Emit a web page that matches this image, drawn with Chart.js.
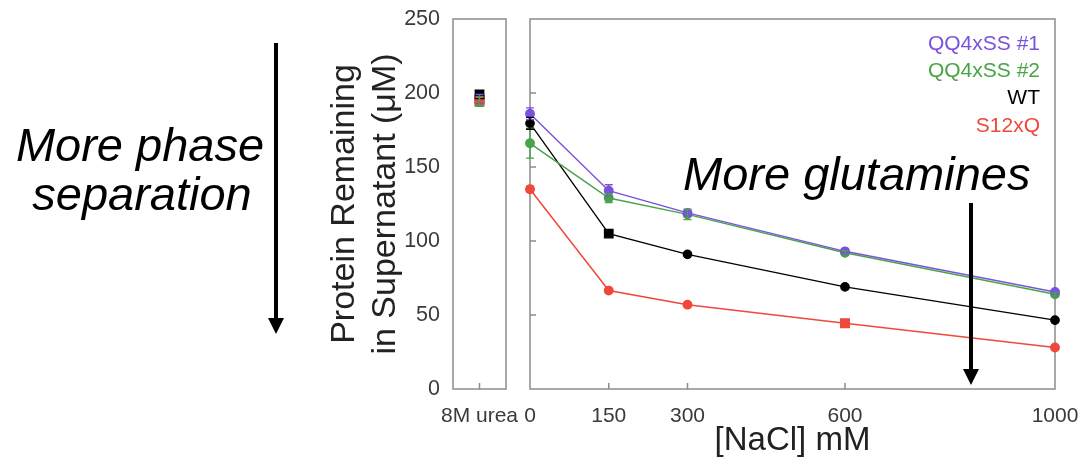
<!DOCTYPE html>
<html lang="en">

<head>
    <meta charset="UTF-8">
    <title>Protein Remaining in Supernatant</title>
    <script src="https://cdn.jsdelivr.net/npm/chart.js"></script>
    <style>
        body { margin: 0; background: #fff; }
        #wrap { position: relative; width: 1086px; height: 459px; }
        canvas { position: absolute; top: 0; }
        #ureaChart { left: 0; }
        #saltChart { left: 510px; }
    </style>
</head>

<body>
    <div id="wrap">
        <canvas id="ureaChart" width="540" height="459"></canvas>
        <canvas id="saltChart" width="576" height="459"></canvas>
    </div>

    <script>
        // NaCl series (uM protein left in supernatant)
        const naclConc = [0, 150, 300, 600, 1000];
        const naclTicks = [0, 150, 300, 600, 1000];
        const yTicks = [0, 50, 100, 150, 200, 250];

        const seriesNames = ['QQ4xSS #1', 'QQ4xSS #2', 'WT', 'S12xQ'];
        const seriesColors = ['#7b52dc', '#47a447', '#000000', '#f0483a'];

        const qq1 = [186, 134, 119, 93, 65.5];
        const qq1Err = [4, 4, 2, 1.5, 1];
        const qq2 = [166, 129, 118, 92, 64];
        const qq2Err = [10, 3, 3.5, 1.5, 1];
        const wt = [179.5, 105, 91, 69, 46.5];
        const wtErr = [4, 1, 1, 1, 1];
        const s12 = [135, 66.5, 57, 44.5, 28];
        const s12Err = [2, 1, 1, 1, 1];

        // 8M urea control
        const ureaLabels = ['8M urea'];
        const qq1Urea = [196];
        const qq1UreaErr = [3];
        const qq2Urea = [194];
        const qq2UreaErr = [3];
        const wtUrea = [199];
        const wtUreaErr = [2];
        const s12Urea = [195.5];
        const s12UreaErr = [2];

        // marker shapes per point
        const qq1Marks = ['circle', 'circle', 'circle', 'circle', 'circle'];
        const qq2Marks = ['circle', 'circle', 'circle', 'circle', 'circle'];
        const wtMarks = ['circle', 'rect', 'circle', 'circle', 'circle'];
        const s12Marks = ['circle', 'circle', 'circle', 'rect', 'circle'];

        const FONT = 'Liberation Sans, Arial, Helvetica, sans-serif';
        Chart.defaults.font.family = FONT;
        Chart.defaults.color = '#3a3a3a';

        const markRadius = ctx => {
            const s = ctx.dataset.pointStyle;
            const style = Array.isArray(s) ? s[ctx.dataIndex] : s;
            return style === 'rect' ? 6 : 4.2;
        };

        function makeSet(i, values, errs, marks) {
            return {
                label: seriesNames[i],
                data: values,
                errors: errs,
                borderColor: seriesColors[i],
                backgroundColor: seriesColors[i],
                pointBackgroundColor: seriesColors[i],
                pointBorderColor: seriesColors[i],
                borderWidth: i === 2 ? 1.3 : 1.5,
                pointStyle: marks,
                pointRadius: markRadius,
                clip: false,
                tension: 0
            };
        }

        // box around the plot area plus small inward ticks
        const framePlugin = {
            id: 'frame',
            beforeDatasetsDraw(chart, args, opts) {
                const { ctx, chartArea: a, scales } = chart;
                ctx.save();
                ctx.strokeStyle = '#8c8c8c';
                ctx.lineWidth = 1.5;
                ctx.strokeRect(a.left, a.top, a.right - a.left, a.bottom - a.top);
                ctx.beginPath();
                (opts.xTicks || []).forEach(v => {
                    const x = scales.x.getPixelForValue(v);
                    ctx.moveTo(x, a.bottom);
                    ctx.lineTo(x, a.bottom - 6);
                });
                (opts.yTicks || []).forEach(v => {
                    const y = scales.y.getPixelForValue(v);
                    ctx.moveTo(a.left, y);
                    ctx.lineTo(a.left + 6, y);
                });
                ctx.stroke();
                ctx.restore();
            }
        };

        // vertical error bars with caps
        const errorBarPlugin = {
            id: 'errorBars',
            afterDatasetsDraw(chart) {
                const { ctx, scales } = chart;
                ctx.save();
                ctx.lineWidth = 1.3;
                chart.data.datasets.forEach((ds, di) => {
                    const meta = chart.getDatasetMeta(di);
                    meta.data.forEach((pt, j) => {
                        const err = ds.errors[j];
                        const v = typeof ds.data[j] === 'object' ? ds.data[j].y : ds.data[j];
                        const yHi = scales.y.getPixelForValue(v + err);
                        const yLo = scales.y.getPixelForValue(v - err);
                        ctx.strokeStyle = ds.borderColor;
                        ctx.beginPath();
                        ctx.moveTo(pt.x, yHi);
                        ctx.lineTo(pt.x, yLo);
                        ctx.moveTo(pt.x - 4, yHi);
                        ctx.lineTo(pt.x + 4, yHi);
                        ctx.moveTo(pt.x - 4, yLo);
                        ctx.lineTo(pt.x + 4, yLo);
                        ctx.stroke();
                    });
                });
                ctx.restore();
            }
        };

        function drawArrow(ctx, x, y0, y1) {
            ctx.save();
            ctx.strokeStyle = '#000';
            ctx.fillStyle = '#000';
            ctx.lineWidth = 4;
            ctx.beginPath();
            ctx.moveTo(x, y0);
            ctx.lineTo(x, y1 - 14);
            ctx.stroke();
            ctx.beginPath();
            ctx.moveTo(x - 8, y1 - 16);
            ctx.lineTo(x + 8, y1 - 16);
            ctx.lineTo(x, y1);
            ctx.closePath();
            ctx.fill();
            ctx.restore();
        }

        // "More phase separation" note beside the urea panel
        const phaseNote = {
            id: 'phaseNote',
            afterDraw(chart) {
                const ctx = chart.ctx;
                ctx.save();
                ctx.fillStyle = '#000';
                ctx.font = 'italic 47px ' + FONT;
                ctx.textAlign = 'center';
                ctx.textBaseline = 'alphabetic';
                ctx.fillText('More phase', 140, 161);
                ctx.fillText('separation', 142, 210);
                ctx.restore();
                drawArrow(ctx, 276, 43, 334);
            }
        };

        // legend text + "More glutamines" note on the NaCl panel
        const saltNotes = {
            id: 'saltNotes',
            afterDraw(chart) {
                const { ctx, chartArea: a } = chart;
                ctx.save();
                ctx.font = '21px ' + FONT;
                ctx.textAlign = 'right';
                ctx.textBaseline = 'middle';
                chart.data.datasets.forEach((ds, i) => {
                    ctx.fillStyle = ds.borderColor;
                    ctx.fillText(ds.label, a.right - 15, a.top + 25 + i * 27.3);
                });
                ctx.fillStyle = '#000';
                ctx.font = 'italic 47px ' + FONT;
                ctx.textAlign = 'left';
                ctx.textBaseline = 'alphabetic';
                ctx.fillText('More glutamines', 173, 190);
                ctx.restore();
                drawArrow(ctx, 461, 203, 385);
            }
        };

        const yScale = {
            min: 0,
            max: 250,
            afterBuildTicks: s => { s.ticks = yTicks.map(v => ({ value: v })); },
            grid: { display: false },
            border: { display: false }
        };

        // keep the tick-label overhang from shrinking the plot box
        const noSidePad = s => { s.height = 70; s.paddingLeft = 0; s.paddingRight = 0; };

        new Chart(document.getElementById('ureaChart'), {
            type: 'line',
            data: {
                labels: ureaLabels,
                datasets: [
                    makeSet(2, wtUrea, wtUreaErr, 'rect'),
                    makeSet(3, s12Urea, s12UreaErr, 'rect'),
                    makeSet(0, qq1Urea, qq1UreaErr, 'rect'),
                    makeSet(1, qq2Urea, qq2UreaErr, 'rect')
                ]
            },
            options: {
                responsive: false,
                animation: false,
                devicePixelRatio: 1,
                layout: { padding: { left: 322, right: 34, top: 19, bottom: 0 } },
                plugins: {
                    legend: { display: false },
                    tooltip: { enabled: false },
                    frame: { xTicks: [0] }
                },
                scales: {
                    x: {
                        offset: true,
                        grid: { display: false },
                        border: { display: false },
                        ticks: { font: { size: 21 }, padding: 7, maxRotation: 0 },
                        afterFit: noSidePad
                    },
                    y: {
                        ...yScale,
                        ticks: { font: { size: 21.5 }, padding: 5 },
                        title: {
                            display: true,
                            text: ['Protein Remaining', 'in Supernatant (μM)'],
                            color: '#222',
                            font: { size: 34, lineHeight: 1.18 },
                            padding: { top: 3, bottom: 0 }
                        },
                        afterFit: s => { s.width = 131; }
                    }
                }
            },
            plugins: [framePlugin, errorBarPlugin, phaseNote]
        });

        new Chart(document.getElementById('saltChart'), {
            type: 'line',
            data: {
                datasets: [
                    makeSet(0, qq1.map((v, i) => ({ x: naclConc[i], y: v })), qq1Err, qq1Marks),
                    makeSet(1, qq2.map((v, i) => ({ x: naclConc[i], y: v })), qq2Err, qq2Marks),
                    makeSet(2, wt.map((v, i) => ({ x: naclConc[i], y: v })), wtErr, wtMarks),
                    makeSet(3, s12.map((v, i) => ({ x: naclConc[i], y: v })), s12Err, s12Marks)
                ]
            },
            options: {
                responsive: false,
                animation: false,
                devicePixelRatio: 1,
                parsing: false,
                layout: { padding: { left: 20, right: 31, top: 19, bottom: 0 } },
                plugins: {
                    legend: { display: false },
                    tooltip: { enabled: false },
                    frame: { xTicks: [150, 300, 600], yTicks: [50, 100, 150, 200] }
                },
                scales: {
                    x: {
                        type: 'linear',
                        min: 0,
                        max: 1000,
                        afterBuildTicks: s => { s.ticks = naclTicks.map(v => ({ value: v })); },
                        grid: { display: false },
                        border: { display: false },
                        ticks: { font: { size: 21 }, padding: 7, maxRotation: 0, callback: v => String(v) },
                        title: {
                            display: true,
                            text: '[NaCl] mM',
                            color: '#222',
                            font: { size: 33, lineHeight: 1.1 },
                            padding: { top: 0, bottom: 0 }
                        },
                        afterFit: noSidePad
                    },
                    y: {
                        ...yScale,
                        ticks: { display: false },
                        afterFit: s => { s.width = 0; }
                    }
                }
            },
            plugins: [framePlugin, errorBarPlugin, saltNotes]
        });
    </script>
</body>

</html>
